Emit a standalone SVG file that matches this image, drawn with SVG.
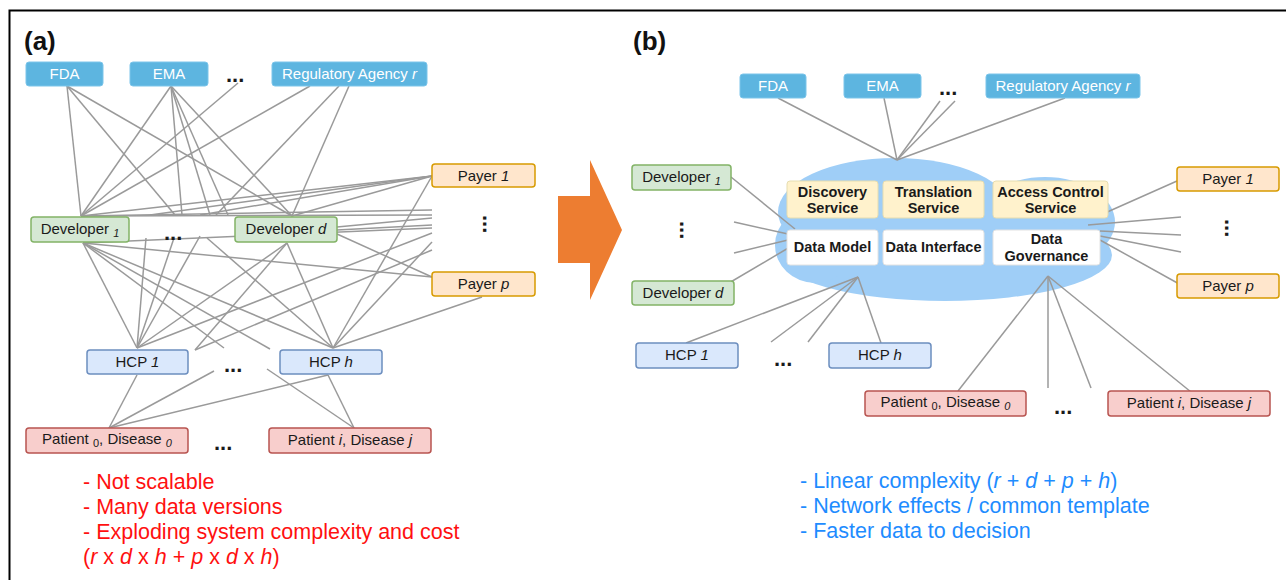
<svg xmlns="http://www.w3.org/2000/svg" width="1286" height="580" viewBox="0 0 1286 580">
<style>
text{font-family:"Liberation Sans",Arial,sans-serif;}
.n{font-size:15px;fill:#1a1a1a;text-anchor:middle;}
.w{font-size:15px;fill:#ffffff;text-anchor:middle;}
.b{font-size:14.5px;font-weight:bold;fill:#1a1a1a;text-anchor:middle;}
.reg{fill:#5DB5E0;stroke:#7CC5EA;stroke-width:1;}
.dev{fill:#D5E8D4;stroke:#82B366;stroke-width:1.5;}
.pay{fill:#FFE6CC;stroke:#D79B00;stroke-width:1.5;}
.hcp{fill:#DAE8FC;stroke:#6C8EBF;stroke-width:1.5;}
.pat{fill:#F8CECC;stroke:#B85450;stroke-width:1.5;}
.svc{fill:#FFF2CC;stroke:#E6DDB0;stroke-width:1;}
.dat{fill:#FFFFFF;stroke:#E2E2E2;stroke-width:1;}
.dots{font-size:22px;font-weight:bold;fill:#1a1a1a;}
.lbl{font-size:26px;font-weight:bold;fill:#111;}
.red{font-size:21.5px;fill:#FF1010;}
.blu{font-size:21.5px;fill:#1E8CFF;}
#conn-a line,#conn-b line{stroke:#9A9A9A;stroke-width:1.5;}
</style>
<rect x="9.5" y="10.5" width="1300" height="600" fill="#fff" stroke="#000" stroke-width="2"/>
<text class="lbl" x="24" y="50">(a)</text>
<text class="lbl" x="633" y="50">(b)</text>

<!-- Panel (a) connectors -->
<g id="conn-a">
<line x1="67" y1="86" x2="81" y2="216"/>
<line x1="67" y1="86" x2="175" y2="215"/>
<line x1="67" y1="86" x2="292" y2="216"/>
<line x1="171" y1="86" x2="81" y2="216"/>
<line x1="171" y1="86" x2="182" y2="215"/>
<line x1="171" y1="86" x2="210" y2="215"/>
<line x1="171" y1="86" x2="228" y2="215"/>
<line x1="171" y1="86" x2="292" y2="216"/>
<line x1="238" y1="83" x2="81" y2="216"/>
<line x1="310" y1="86" x2="81" y2="216"/>
<line x1="339" y1="86" x2="216" y2="215"/>
<line x1="349" y1="86" x2="292" y2="216"/>
<line x1="432" y1="176" x2="81" y2="216"/>
<line x1="432" y1="176" x2="150" y2="215"/>
<line x1="432" y1="176" x2="200" y2="215"/>
<line x1="432" y1="176" x2="292" y2="216"/>
<line x1="432" y1="176" x2="333" y2="348"/>
<line x1="81" y1="216" x2="432" y2="210"/>
<line x1="81" y1="216" x2="432" y2="215"/>
<line x1="83" y1="243" x2="432" y2="228"/>
<line x1="83" y1="243" x2="432" y2="277"/>
<line x1="337" y1="227" x2="432" y2="218"/>
<line x1="337" y1="230" x2="432" y2="225"/>
<line x1="337" y1="234" x2="432" y2="277"/>
<line x1="83" y1="243" x2="137" y2="348"/>
<line x1="83" y1="243" x2="224" y2="348"/>
<line x1="83" y1="243" x2="270" y2="349"/>
<line x1="83" y1="243" x2="333" y2="348"/>
<line x1="146" y1="238" x2="137" y2="348"/>
<line x1="174" y1="238" x2="137" y2="348"/>
<line x1="200" y1="236" x2="137" y2="348"/>
<line x1="207" y1="238" x2="333" y2="348"/>
<line x1="287" y1="243" x2="137" y2="348"/>
<line x1="287" y1="243" x2="195" y2="350"/>
<line x1="287" y1="243" x2="333" y2="348"/>
<line x1="432" y1="233" x2="137" y2="348"/>
<line x1="432" y1="242" x2="333" y2="348"/>
<line x1="482" y1="297" x2="333" y2="348"/>
<line x1="195" y1="350" x2="432" y2="250"/>
<line x1="137" y1="375" x2="109" y2="428"/>
<line x1="214" y1="371" x2="109" y2="428"/>
<line x1="328" y1="375" x2="109" y2="428"/>
<line x1="328" y1="375" x2="354" y2="428"/>
<line x1="267" y1="369" x2="354" y2="428"/>
</g>

<!-- Panel (a) nodes -->
<g id="a-fda"><rect class="reg" x="26" y="62" width="77" height="24" rx="3"/><text class="w" x="64.5" y="79">FDA</text></g>
<g id="a-ema"><rect class="reg" x="130" y="62" width="78" height="24" rx="3"/><text class="w" x="169" y="79">EMA</text></g>
<g id="a-regdots"><text class="dots" x="226" y="82">...</text></g>
<g id="a-reg"><rect class="reg" x="272" y="62" width="155" height="24" rx="3"/><text class="w" x="349.5" y="79">Regulatory Agency <tspan font-style="italic">r</tspan></text></g>
<g id="a-dev1"><rect class="dev" x="31" y="217" width="98" height="25" rx="3"/><text class="n" x="80" y="234">Developer <tspan font-size="11" font-style="italic" dy="3">1</tspan></text></g>
<g id="a-devdots"><text class="dots" x="164" y="240">...</text></g>
<g id="a-devd"><rect class="dev" x="235" y="217" width="102" height="25" rx="3"/><text class="n" x="286" y="234">Developer <tspan font-style="italic">d</tspan></text></g>
<g id="a-pay1"><rect class="pay" x="432" y="164" width="103" height="23" rx="3"/><text class="n" x="483.5" y="181">Payer <tspan font-style="italic">1</tspan></text></g>
<g id="a-paydots"><text class="dots" transform="translate(483 215) rotate(90)" x="0" y="0">...</text></g>
<g id="a-payp"><rect class="pay" x="432" y="272" width="103" height="24" rx="3"/><text class="n" x="483.5" y="289">Payer <tspan font-style="italic">p</tspan></text></g>
<g id="a-hcp1"><rect class="hcp" x="87" y="350" width="101" height="24" rx="3"/><text class="n" x="137.5" y="367">HCP <tspan font-style="italic">1</tspan></text></g>
<g id="a-hcpdots"><text class="dots" x="224" y="372">...</text></g>
<g id="a-hcph"><rect class="hcp" x="280" y="350" width="102" height="24" rx="3"/><text class="n" x="331" y="367">HCP <tspan font-style="italic">h</tspan></text></g>
<g id="a-pat0"><rect class="pat" x="26" y="428" width="162" height="25" rx="3"/><text class="n" x="107" y="444">Patient <tspan font-size="11" dy="3">0</tspan><tspan dy="-3">, Disease </tspan><tspan font-size="11" font-style="italic" dy="3">0</tspan></text></g>
<g id="a-patdots"><text class="dots" x="214" y="450">...</text></g>
<g id="a-pati"><rect class="pat" x="269" y="428" width="162" height="25" rx="3"/><text class="n" x="350" y="445">Patient <tspan font-style="italic">i</tspan>, Disease <tspan font-style="italic">j</tspan></text></g>

<g id="a-notes">
<text class="red" x="83" y="489">- Not scalable</text>
<text class="red" x="83" y="514">- Many data versions</text>
<text class="red" x="83" y="539">- Exploding system complexity and cost</text>
<text class="red" x="83" y="564">(<tspan font-style="italic">r</tspan> x <tspan font-style="italic">d</tspan> x <tspan font-style="italic">h</tspan> + <tspan font-style="italic">p</tspan> x <tspan font-style="italic">d</tspan> x <tspan font-style="italic">h</tspan>)</text>
</g>

<!-- Arrow -->
<g id="arrow"><polygon points="558,196 590,196 590,160 622,230 590,300 590,263 558,263" fill="#ED7D31"/></g>

<!-- Panel (b) cloud -->
<g id="b-cloud" fill="#9FCEF7">
<ellipse cx="895" cy="212" rx="117" ry="54"/>
<ellipse cx="1045" cy="222" rx="70" ry="45"/>
<ellipse cx="945" cy="255" rx="167" ry="46"/>
<ellipse cx="815" cy="245" rx="40" ry="38"/>
</g>

<!-- Panel (b) connectors -->
<g id="conn-b">
<line x1="778" y1="98" x2="897" y2="160"/>
<line x1="884" y1="98" x2="897" y2="160"/>
<line x1="940" y1="101" x2="897" y2="160"/>
<line x1="955" y1="101" x2="897" y2="160"/>
<line x1="1065" y1="98" x2="897" y2="160"/>
<line x1="731" y1="177" x2="795" y2="229"/>
<line x1="734" y1="222" x2="788" y2="234"/>
<line x1="734" y1="253" x2="788" y2="240"/>
<line x1="729" y1="283" x2="790" y2="247"/>
<line x1="858" y1="277" x2="686" y2="343"/>
<line x1="858" y1="277" x2="771" y2="342"/>
<line x1="858" y1="277" x2="808" y2="342"/>
<line x1="858" y1="277" x2="881" y2="343"/>
<line x1="1048" y1="276" x2="958" y2="391"/>
<line x1="1048" y1="276" x2="1048" y2="388"/>
<line x1="1048" y1="276" x2="1091" y2="388"/>
<line x1="1048" y1="276" x2="1191" y2="392"/>
<line x1="1177" y1="181" x2="1105" y2="213"/>
<line x1="1181" y1="217" x2="1088" y2="225"/>
<line x1="1181" y1="235" x2="1100" y2="231"/>
<line x1="1181" y1="252" x2="1100" y2="236"/>
<line x1="1181" y1="285" x2="1100" y2="240"/>
</g>

<!-- Panel (b) nodes -->
<g id="b-fda"><rect class="reg" x="740" y="74" width="66" height="24" rx="3"/><text class="w" x="773" y="91">FDA</text></g>
<g id="b-ema"><rect class="reg" x="844" y="74" width="77" height="24" rx="3"/><text class="w" x="882.5" y="91">EMA</text></g>
<g id="b-regdots"><text class="dots" x="939" y="95">...</text></g>
<g id="b-reg"><rect class="reg" x="986" y="74" width="154" height="24" rx="3"/><text class="w" x="1063" y="91">Regulatory Agency <tspan font-style="italic">r</tspan></text></g>
<g id="b-dev1"><rect class="dev" x="632" y="165" width="99" height="25" rx="3"/><text class="n" x="681.5" y="182">Developer <tspan font-size="11" font-style="italic" dy="3">1</tspan></text></g>
<g id="b-devdots"><text class="dots" transform="translate(680 221) rotate(90)" x="0" y="0">...</text></g>
<g id="b-devd"><rect class="dev" x="632" y="281" width="102" height="24" rx="3"/><text class="n" x="683" y="298">Developer <tspan font-style="italic">d</tspan></text></g>
<g id="b-pay1"><rect class="pay" x="1177" y="167" width="102" height="24" rx="3"/><text class="n" x="1228" y="184">Payer <tspan font-style="italic">1</tspan></text></g>
<g id="b-paydots"><text class="dots" transform="translate(1225 219) rotate(90)" x="0" y="0">...</text></g>
<g id="b-payp"><rect class="pay" x="1177" y="274" width="102" height="24" rx="3"/><text class="n" x="1228" y="291">Payer <tspan font-style="italic">p</tspan></text></g>
<g id="b-hcp1"><rect class="hcp" x="636" y="343" width="102" height="25" rx="3"/><text class="n" x="687" y="360">HCP <tspan font-style="italic">1</tspan></text></g>
<g id="b-hcpdots"><text class="dots" x="774" y="366">...</text></g>
<g id="b-hcph"><rect class="hcp" x="829" y="343" width="102" height="25" rx="3"/><text class="n" x="880" y="360">HCP <tspan font-style="italic">h</tspan></text></g>
<g id="b-pat0"><rect class="pat" x="865" y="391" width="161" height="25" rx="3"/><text class="n" x="945.5" y="407">Patient <tspan font-size="11" dy="3">0</tspan><tspan dy="-3">, Disease </tspan><tspan font-size="11" font-style="italic" dy="3">0</tspan></text></g>
<g id="b-patdots"><text class="dots" x="1054" y="414">...</text></g>
<g id="b-pati"><rect class="pat" x="1108" y="391" width="162" height="25" rx="3"/><text class="n" x="1189" y="408">Patient <tspan font-style="italic">i</tspan>, Disease <tspan font-style="italic">j</tspan></text></g>
<g id="b-discovery"><rect class="svc" x="787" y="181" width="91" height="37" rx="3"/><text class="b" x="832.5" y="197">Discovery</text><text class="b" x="832.5" y="213">Service</text></g>
<g id="b-translation"><rect class="svc" x="883" y="181" width="101" height="37" rx="3"/><text class="b" x="933.5" y="197">Translation</text><text class="b" x="933.5" y="213">Service</text></g>
<g id="b-access"><rect class="svc" x="993" y="181" width="115" height="37" rx="3"/><text class="b" x="1050.5" y="197">Access Control</text><text class="b" x="1050.5" y="213">Service</text></g>
<g id="b-datamodel"><rect class="dat" x="787" y="230" width="91" height="35" rx="3"/><text class="b" x="832.5" y="252">Data Model</text></g>
<g id="b-datainterface"><rect class="dat" x="883" y="230" width="101" height="35" rx="3"/><text class="b" x="933.5" y="252">Data Interface</text></g>
<g id="b-datagov"><rect class="dat" x="993" y="230" width="107" height="35" rx="3"/><text class="b" x="1046.5" y="244">Data</text><text class="b" x="1046.5" y="261">Governance</text></g>

<g id="b-notes">
<text class="blu" x="800" y="488">- Linear complexity (<tspan font-style="italic">r</tspan> + <tspan font-style="italic">d</tspan> + <tspan font-style="italic">p</tspan> + <tspan font-style="italic">h</tspan>)</text>
<text class="blu" x="800" y="513">- Network effects / common template</text>
<text class="blu" x="800" y="538">- Faster data to decision</text>
</g>
</svg>
